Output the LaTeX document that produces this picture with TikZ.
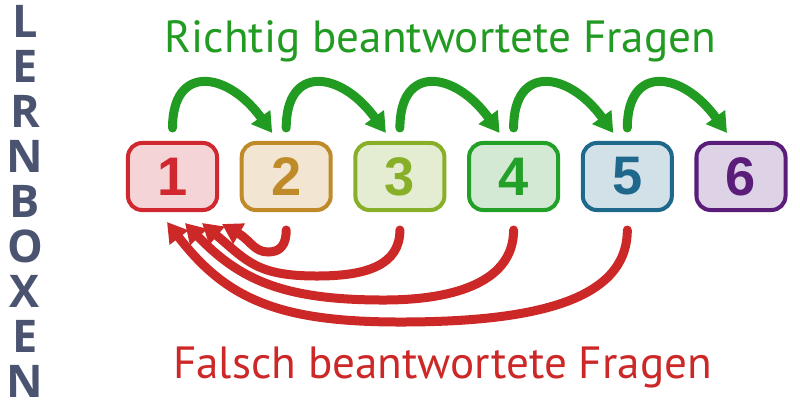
\documentclass[tikz,border=0pt]{standalone}
\usepackage{fontspec}
\setmainfont{PT Sans}
\newfontfamily\digitfont{Liberation Sans}
\newfontfamily\sidefont{Open Sans}
\usepackage{tikz}
\usetikzlibrary{arrows.meta}

\definecolor{okgreen}{RGB}{34,155,34}
\definecolor{badred}{RGB}{204,40,40}
\definecolor{sidegray}{RGB}{74,83,112}
\definecolor{lineA}{RGB}{208,40,46}   \definecolor{fillA}{RGB}{244,212,214}
\definecolor{lineB}{RGB}{191,138,40}  \definecolor{fillB}{RGB}{242,230,211}
\definecolor{lineC}{RGB}{135,176,40}  \definecolor{fillC}{RGB}{228,237,210}
\definecolor{lineD}{RGB}{34,160,40}   \definecolor{fillD}{RGB}{211,233,211}
\definecolor{lineE}{RGB}{30,104,140}  \definecolor{fillE}{RGB}{210,224,232}
\definecolor{lineF}{RGB}{90,30,122}   \definecolor{fillF}{RGB}{222,210,230}

\begin{document}
\begin{tikzpicture}[x=0.025cm,y=-0.025cm,
    box/.style={line width=2.85pt,rounded corners=0.35cm,minimum width=2.225cm,
      minimum height=1.675cm,inner sep=0pt,
      font=\digitfont\bfseries\fontsize{38.6}{40}\selectfont},
    okarrow/.style={okgreen,line width=6.4pt,line cap=round,
      -{Triangle[length=14pt,width=16pt]}},
    badarrow/.style={badred,line width=6.4pt,line cap=round,
      -{Triangle[length=14pt,width=16pt]}},
    sideletter/.style={anchor=base,inner sep=0pt,sidegray,
      font=\sidefont\bfseries\fontsize{32}{34}\selectfont},
    caption/.style={anchor=base,inner sep=0pt,font=\fontsize{32.1}{38}\selectfont}]
  \useasboundingbox (0,0) rectangle (800,406);

  % vertical word on the left
  \foreach \c [count=\i] in {L,E,R,N,B,O,X,E,N}
    \node[sideletter] (l\i) at (25,{37.5+45*(\i-1)}) {\c};

  % the six boxes
  \foreach \n/\lc/\fc [count=\i] in {1/lineA/fillA,2/lineB/fillB,3/lineC/fillC,
      4/lineD/fillD,5/lineE/fillE,6/lineF/fillF}
    \node[box,draw=\lc,fill=\fc,text=\lc] (b\i) at ({172.5+113.7*(\i-1)},176.5) {\n};

  \node[caption,okgreen] (richtig) at (440.5,53) {Richtig beantwortete Fragen};
  \node[caption,badred] (falsch) at (442.5,378) {Falsch beantwortete Fragen};

  % one box up
  \foreach \i/\j in {1/2,2/3,3/4,4/5,5/6}
    \draw[okarrow] ([shift={(0,-13)}]b\i.north) .. controls +(0,-64) and +(-45,-62)
      .. ([shift={(-14,-8)}]b\j.north);

  % back to box 1
  \foreach \i/\dx/\dy/\a/\b/\c/\e/\f/\tx/\ty in {5/-227/92/72/130/120/60/78/-5.5/10,
      4/-130/70/50/75/100/55/57/12.5/11,3/-83/46/35/50/60/45/38/29.5/11,
      2/-18/22/15/12/14/28/16/49.5/12}
    \draw[badarrow] ([shift={(0,18)}]b\i.south) .. controls +(0,\a) and +(\b,0)
      .. +(\dx,\dy) .. controls +(-\c,0) and +(\e,\f) .. ([shift={(\tx,\ty)}]b1.south);
\end{tikzpicture}
\end{document}
